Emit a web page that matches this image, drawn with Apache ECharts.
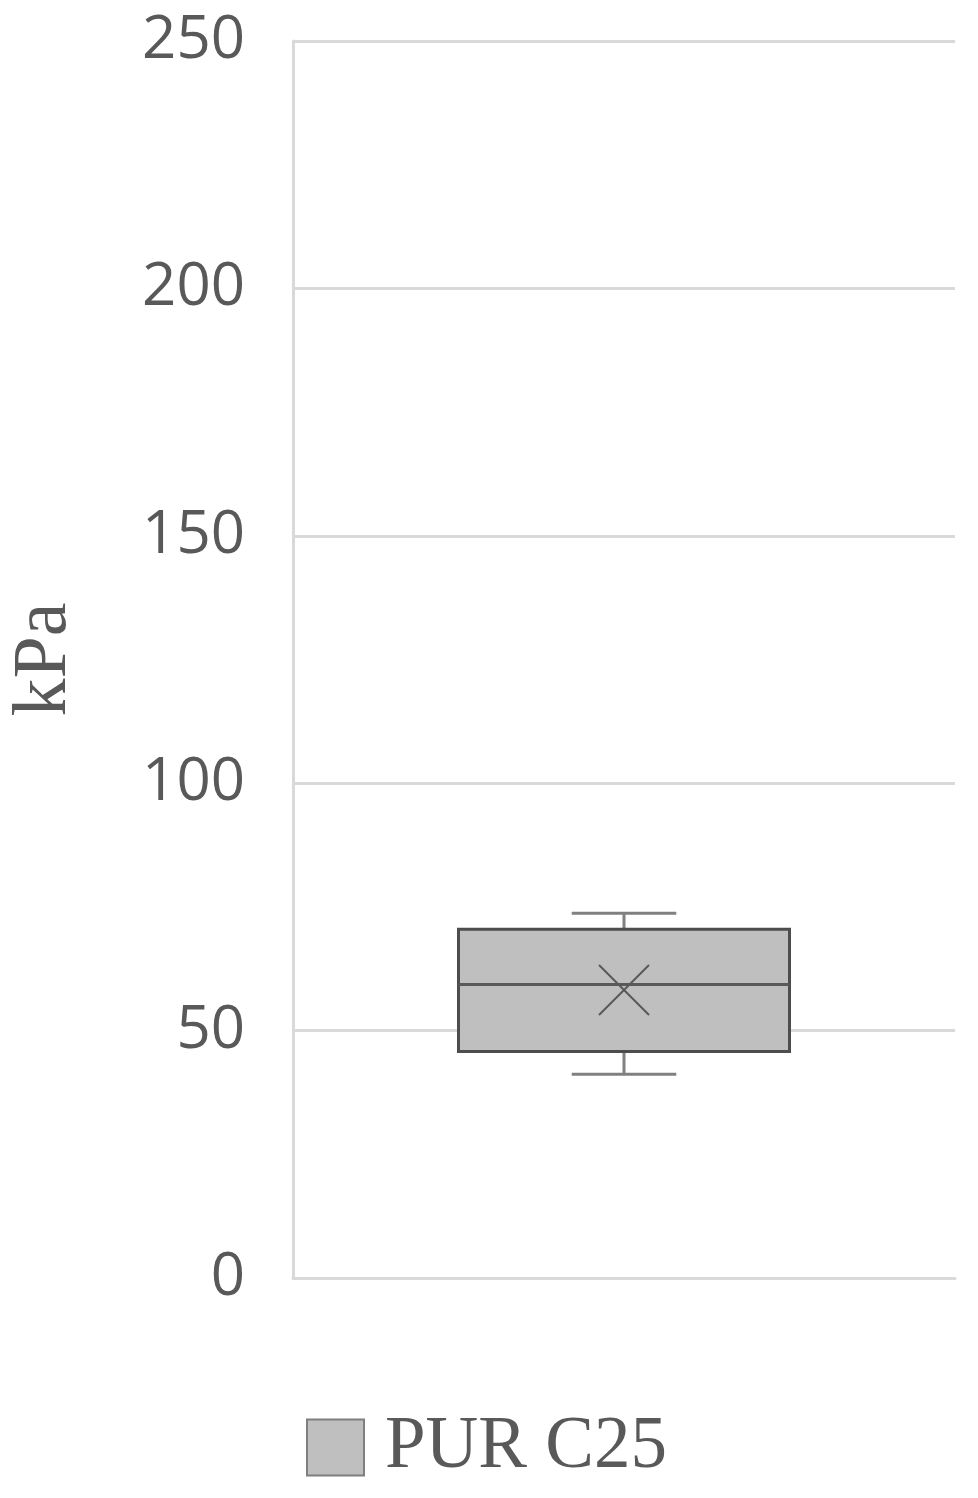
<!DOCTYPE html>
<html>
<head>
<meta charset="utf-8">
<script src="https://cdn.jsdelivr.net/npm/echarts@6/dist/echarts.min.js"></script>
<style>
html,body{margin:0;padding:0;background:#fff;}
#chart{width:978px;height:1498px;}
</style>
</head>
<body>
<div id="chart"></div>
<script>
// Data
const categories = ['PUR C25'];
const seriesName = 'PUR C25';
// [min, Q1, median, Q3, max]
const boxStats = [[41.2, 45.8, 59.3, 70.5, 73.7]];
const means = [58.2];
const yTicks = [0, 50, 100, 150, 200, 250];

const chart = echarts.init(document.getElementById('chart'));

const customData = boxStats.map((s, i) => [i, s[0], s[1], s[2], s[3], s[4], means[i]]);

function renderBox(params, api) {
  const idx = api.value(0);
  const pMin = api.coord([idx, api.value(1)]);
  const pQ1 = api.coord([idx, api.value(2)]);
  const pMed = api.coord([idx, api.value(3)]);
  const pQ3 = api.coord([idx, api.value(4)]);
  const pMax = api.coord([idx, api.value(5)]);
  const pMean = api.coord([idx, api.value(6)]);
  const band = api.size([1, 0])[0];
  const bw = band * 0.5;
  const cw = band * 0.079;
  const cx = pQ1[0];
  const x0 = cx - bw / 2;
  const lineW = { stroke: '#808080', lineWidth: 3 };
  const dark = { stroke: '#595959', lineWidth: 3 };
  const m = 25;
  return {
    type: 'group',
    children: [
      { type: 'line', shape: { x1: cx, y1: pMax[1], x2: cx, y2: pQ3[1] }, style: lineW },
      { type: 'line', shape: { x1: cx - cw, y1: pMax[1], x2: cx + cw, y2: pMax[1] }, style: lineW },
      { type: 'line', shape: { x1: cx, y1: pMin[1], x2: cx, y2: pQ1[1] }, style: lineW },
      { type: 'line', shape: { x1: cx - cw, y1: pMin[1], x2: cx + cw, y2: pMin[1] }, style: lineW },
      { type: 'rect', shape: { x: x0, y: pQ3[1], width: bw, height: pQ1[1] - pQ3[1] },
        style: { fill: '#bfbfbf', stroke: '#4d4d4d', lineWidth: 3 } },
      { type: 'line', shape: { x1: x0, y1: pMed[1], x2: x0 + bw, y2: pMed[1] }, style: dark },
      { type: 'line', shape: { x1: pMean[0] - m, y1: pMean[1] - m, x2: pMean[0] + m, y2: pMean[1] + m },
        style: { stroke: '#595959', lineWidth: 2 } },
      { type: 'line', shape: { x1: pMean[0] - m, y1: pMean[1] + m, x2: pMean[0] + m, y2: pMean[1] - m },
        style: { stroke: '#595959', lineWidth: 2 } }
    ]
  };
}

chart.setOption({
  animation: false,
  backgroundColor: '#ffffff',
  grid: { left: 293, right: 23, top: 41, bottom: 220, containLabel: false, outerBoundsMode: 'none' },
  legend: {
    bottom: 9,
    left: 301,
    itemWidth: 57,
    itemHeight: 56,
    data: [{ name: seriesName, icon: 'rect',
      itemStyle: { color: '#bfbfbf', borderColor: '#7f7f7f', borderWidth: 2 } }],
    textStyle: { fontFamily: 'Liberation Serif', fontSize: 73, color: '#595959', padding: [0, 0, 0, 16] }
  },
  xAxis: {
    type: 'category',
    data: categories,
    axisLine: { show: true, lineStyle: { color: '#d9d9d9', width: 3 } },
    axisTick: { show: false },
    axisLabel: { show: false },
    splitLine: { show: false }
  },
  yAxis: {
    type: 'value',
    min: 0,
    max: 250,
    interval: 50,
    name: 'kPa',
    nameLocation: 'middle',
    nameGap: 210,
    nameRotate: 90,
    nameTextStyle: { fontFamily: 'Liberation Serif', fontSize: 76, color: '#595959' },
    axisLine: { show: true, lineStyle: { color: '#d9d9d9', width: 3 } },
    axisTick: { show: false },
    axisLabel: {
      margin: 48,
      fontFamily: 'Open Sans',
      fontSize: 60,
      color: '#595959',
      formatter: v => yTicks.includes(v) ? String(v) : ''
    },
    splitLine: { show: true, lineStyle: { color: '#d9d9d9', width: 3 } }
  },
  series: [{
    name: seriesName,
    type: 'custom',
    renderItem: renderBox,
    itemStyle: { color: '#bfbfbf' },
    encode: { x: 0, y: [1, 2, 3, 4, 5, 6] },
    data: customData
  }]
});
</script>
</body>
</html>
